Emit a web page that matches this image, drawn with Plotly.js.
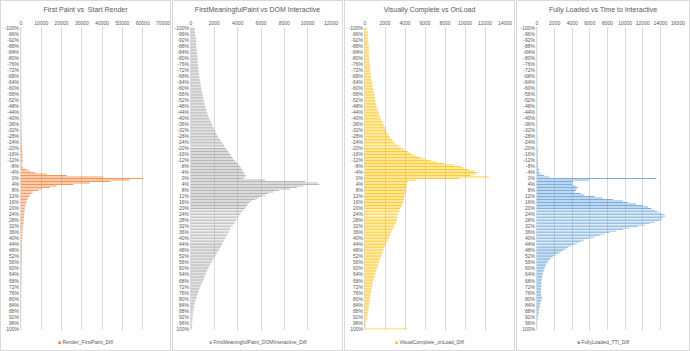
<!DOCTYPE html>
<html><head><meta charset="utf-8">
<script src="https://cdn.plot.ly/plotly-3.0.1.min.js"></script>
<style>
html,body{margin:0;padding:0;background:#fff;}
#wrap{position:relative;width:690px;height:351px;overflow:hidden;background:#fff;}
.pn{position:absolute;top:0;height:351px;}
.bd{position:absolute;top:0;height:351px;box-sizing:border-box;border:1px solid #D9D9D9;pointer-events:none;}
</style></head>
<body>
<div id="wrap">
<div id="p1" class="pn" style="left:0;width:171px"></div>
<div id="p2" class="pn" style="left:172px;width:171px"></div>
<div id="p3" class="pn" style="left:344px;width:171px"></div>
<div id="p4" class="pn" style="left:516px;width:174px"></div>
<div class="bd" style="left:0;width:171px"></div>
<div class="bd" style="left:172px;width:171px"></div>
<div class="bd" style="left:344px;width:171px"></div>
<div class="bd" style="left:516px;width:174px"></div>
</div>
<script>
// Categories: percentage difference buckets from -100% to 100%
var pcts = [];
for (var p = -100; p <= 100; p++) pcts.push(p);
var tickVals = [];
var tickLabels = [];
for (var t = -100; t <= 100; t += 4) { tickVals.push(t); tickLabels.push(t + '%'); }

var titles = ['First Paint vs  Start Render', 'FirstMeaningfulPaint vs DOM Interactive', 'Visually Complete vs OnLoad', 'Fully Loaded vs Time to Interactive'];
var seriesNames = ['Render_FirstPaint_Diff', 'FirstMeaningfulPaint_DOMInteractive_Diff', 'VisualComplete_onLoad_Diff', 'FullyLoaded_TTI_Diff'];
var colors = ['#ED7D31', '#A5A5A5', '#FFC000', '#5B9BD5'];
var xMax = [70000, 12000, 14000, 16000];
var xStep = [10000, 2000, 2000, 2000];

var renderFirstPaint = [
 250,60,50,40,50,40,45,50,40,55,
 50,45,60,50,55,60,50,65,60,70,
 60,70,65,75,70,80,75,85,80,90,
 85,95,90,100,95,110,100,115,110,120,
 120,125,130,135,140,145,150,160,165,170,
 180,185,190,200,210,220,230,240,250,260,
 270,280,290,300,310,320,330,345,360,380,
 390,400,410,430,450,470,490,510,530,550,
 570,590,610,640,670,700,740,780,830,900,
 300,400,600,1100,2800,4400,6900,12600,22500,40500,
 60200,53600,43800,33900,25700,17500,14300,10200,8500,6000,
 5200,4400,4100,3600,3100,2800,2500,2300,2100,2000,
 1900,1800,1700,1650,1600,1500,1450,1400,1350,1300,
 1200,1100,1000,950,900,850,800,750,700,650,
 600,580,560,540,520,500,480,460,440,420,
 400,390,380,370,360,350,340,330,320,310,
 300,290,280,270,260,250,240,230,220,210,
 200,195,190,185,180,175,170,165,160,155,
 150,145,140,135,130,125,120,115,110,105,
 100,95,90,85,80,75,70,65,60,55,
 300];

var fmpDomInteractive = [
 313,330,340,350,370,380,400,410,430,440,
 450,455,460,470,480,500,510,530,540,560,
 570,560,575,570,580,600,615,630,650,665,
 680,695,710,730,755,780,800,820,845,860,
 880,910,940,970,1000,1020,1040,1060,1080,1110,
 1150,1190,1220,1260,1300,1340,1370,1420,1470,1520,
 1540,1600,1680,1740,1800,1850,1910,1960,2020,2090,
 2160,2230,2300,2390,2480,2560,2650,2740,2830,2910,
 3000,3090,3180,3270,3360,3450,3540,3640,3730,3850,
 3970,4100,4220,4300,4380,4450,4500,4600,4700,4650,
 4500,6350,9770,10900,11000,9630,9060,8500,7500,7060,
 6640,6350,6070,5780,5500,5210,4990,4890,4790,4710,
 4640,4500,4360,4290,4220,4120,4020,3930,3850,3790,
 3730,3590,3450,3390,3330,3280,3220,3150,3070,3000,
 2930,2860,2790,2720,2650,2580,2500,2430,2360,2270,
 2190,2100,2020,1950,1880,1810,1740,1670,1590,1520,
 1450,1390,1330,1280,1220,1170,1130,1080,1030,970,
 910,860,800,750,700,650,600,560,510,470,
 430,390,350,320,285,260,240,220,200,185,
 170,155,140,130,120,115,110,100,95,90,
 85];

var visualCompleteOnLoad = [
 200,220,240,250,270,290,300,320,330,340,
 350,360,370,375,385,395,400,410,415,425,
 430,450,465,480,500,505,515,520,530,550,
 565,580,600,625,650,675,700,725,750,775,
 800,830,865,900,930,955,980,1005,1030,1060,
 1095,1130,1160,1210,1260,1310,1360,1400,1450,1500,
 1550,1630,1710,1790,1860,1920,1980,2040,2100,2180,
 2260,2350,2430,2550,2680,2800,2930,3120,3320,3540,
 3760,4000,4260,4500,4760,5150,5590,6050,6590,7200,
 7920,8920,9580,9920,10400,10900,11250,11080,10580,12400,
 9420,5090,4300,4200,4190,4170,4150,4120,4090,4060,
 4020,3980,3930,3900,3880,3850,3830,3750,3680,3600,
 3530,3460,3400,3330,3260,3240,3220,3200,3190,3120,
 3060,3000,2930,2850,2770,2680,2600,2540,2480,2420,
 2360,2280,2190,2110,2030,1980,1930,1880,1830,1770,
 1720,1660,1600,1540,1480,1420,1360,1320,1280,1240,
 1200,1150,1100,1050,1000,960,920,870,830,800,
 770,730,700,670,650,620,600,575,550,525,
 500,480,465,445,430,400,380,355,330,305,
 280,255,230,205,180,155,130,110,90,70,
 4190];

var fullyLoadedTTI = [
 60,10,15,10,20,15,10,20,15,10,
 15,20,10,15,20,15,10,20,15,20,
 15,20,25,15,20,25,20,15,25,20,
 25,20,30,25,20,30,25,30,20,25,
 40,25,30,35,30,25,35,30,40,35,
 30,40,35,45,40,35,45,40,50,45,
 40,50,45,55,50,45,55,60,50,55,
 60,55,65,60,70,65,70,75,70,80,
 75,80,85,80,90,85,95,90,100,95,
 100,105,110,150,190,230,270,450,830,1400,
 13540,5950,4060,4060,4060,4400,4630,4500,4440,4250,
 5000,5380,6520,7470,8600,9740,10310,11260,12020,12590,
 12970,13350,13730,14100,14480,14560,14290,14180,13920,13350,
 12780,12210,11450,10500,9740,8990,8230,7660,7090,6520,
 5950,5380,5000,4630,4250,3870,3490,3220,2920,2650,
 2350,2090,1780,1590,1400,1290,1140,1050,950,890,
 830,780,720,680,640,600,570,550,530,510,
 490,490,490,470,450,450,450,470,490,530,
 570,500,420,380,340,300,270,250,230,210,
 190,150,110,95,80,60,40,30,20,15,
 10];

var allSeries = [renderFirstPaint, fmpDomInteractive, visualCompleteOnLoad, fullyLoadedTTI];
var widths = [171, 171, 171, 174];
var margL = [21, 19, 21, 21];
var margR = [8, 12, 10, 12];
var MT = 27, MB = 21, H = 351;
var FONT = '"Liberation Sans", Arial, sans-serif';
var GREY = '#595959';

for (var i = 0; i < 4; i++) {
  var plotW = widths[i] - margL[i] - margR[i];
  var plotH = H - MT - MB;
  var trace = {
    type: 'bar', orientation: 'h',
    x: allSeries[i], y: pcts,
    name: seriesNames[i],
    marker: {color: colors[i], opacity: 0.8, line: {width: 0}},
    hoverinfo: 'none'
  };
  var layout = {
    width: widths[i], height: H,
    margin: {l: margL[i], r: margR[i], t: MT, b: MB, pad: 0},
    paper_bgcolor: 'rgba(0,0,0,0)', plot_bgcolor: 'rgba(0,0,0,0)',
    showlegend: false,
    bargap: 0.4,
    font: {family: FONT, color: GREY, size: 5},
    title: {text: titles[i], font: {family: FONT, size: 7, color: GREY},
            x: 0.5, xref: 'container', xanchor: 'center', y: 1 - 10/H, yref: 'container', yanchor: 'middle'},
    xaxis: {side: 'top', range: [0, xMax[i]], dtick: xStep[i], tick0: 0, tickformat: 'd',
            showgrid: true, gridcolor: '#D9D9D9', gridwidth: 1, zeroline: false, showline: false,
            ticks: '', tickfont: {size: 5, color: GREY, family: FONT}, fixedrange: true},
    yaxis: {range: [100.75, -100.75], tickmode: 'array', tickvals: tickVals, ticktext: tickLabels,
            showgrid: false, zeroline: false, showline: true, linecolor: '#D9D9D9', linewidth: 1,
            ticks: '', tickfont: {size: 5, color: GREY, family: FONT}, fixedrange: true},
    annotations: [{
      xref: 'paper', yref: 'paper',
      x: (widths[i] / 2 - margL[i]) / plotW,
      y: -(342 - (H - MB)) / plotH,
      xanchor: 'center', yanchor: 'middle',
      showarrow: false,
      text: '<span style="color:' + colors[i] + '">■</span> ' + seriesNames[i],
      font: {family: FONT, size: 5, color: GREY}
    }]
  };
  Plotly.newPlot('p' + (i + 1), [trace], layout, {staticPlot: true, displayModeBar: false});
}
</script>
</body></html>
